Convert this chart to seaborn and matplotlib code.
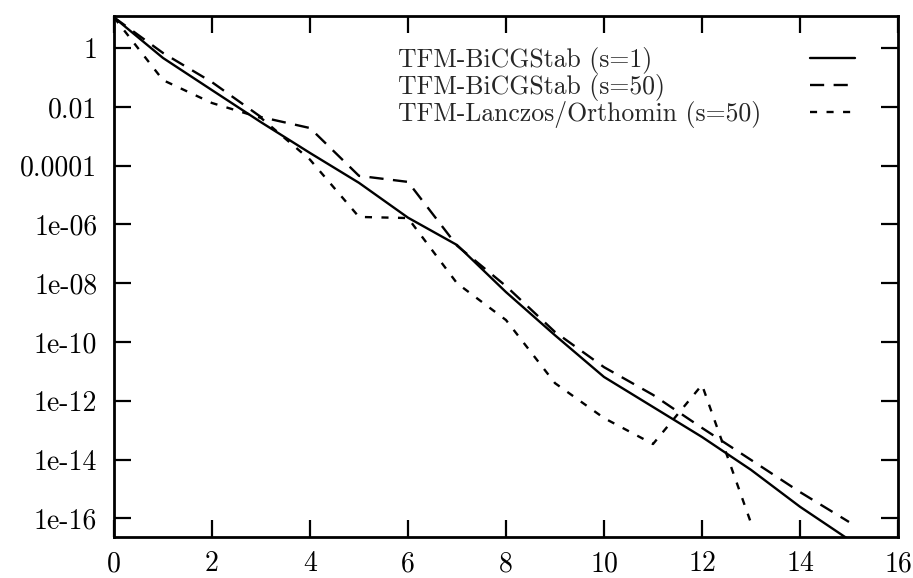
import numpy as np
import pandas as pd
import seaborn as sns
import matplotlib
matplotlib.use("Agg")
import matplotlib.pyplot as plt

# residual norms (one value per iteration)
iters_bicg1 = list(range(16))
res_bicg1 = [11.0, 0.46, 0.037, 3.0e-3, 2.7e-4, 2.6e-5, 1.7e-6, 2.0e-7,
             5.0e-9, 1.7e-10, 6.5e-12, 6.2e-13, 5.9e-14, 4.5e-15, 2.5e-16, 1.9e-17]

iters_bicg50 = list(range(16))
res_bicg50 = [11.0, 0.68, 0.069, 4.5e-3, 1.9e-3, 4.5e-5, 2.8e-5, 1.9e-7,
              8.0e-9, 2.2e-10, 1.4e-11, 1.6e-12, 1.2e-13, 9.8e-15, 7.9e-16, 7.6e-17]

iters_lanczos = list(range(14))
res_lanczos = [11.0, 0.081, 0.0135, 4.2e-3, 1.6e-4, 1.8e-6, 1.65e-6, 1.0e-8,
               5.6e-10, 4.0e-12, 2.6e-13, 3.4e-14, 3.5e-12, 7.0e-17]

labels = ["TFM-BiCGStab (s=1)", "TFM-BiCGStab (s=50)", "TFM-Lanczos/Orthomin (s=50)"]
ytick_vals = [1, 1e-2, 1e-4, 1e-6, 1e-8, 1e-10, 1e-12, 1e-14, 1e-16]
ytick_labels = ["1", "0.01", "0.0001", "1e-06", "1e-08", "1e-10", "1e-12", "1e-14", "1e-16"]
xtick_vals = list(range(0, 17, 2))

sns.set_theme(style="ticks")
plt.rcParams["font.family"] = ["cmr10", "DejaVu Serif"]
plt.rcParams["mathtext.fontset"] = "cm"
plt.rcParams["axes.unicode_minus"] = False
plt.rcParams["axes.formatter.use_mathtext"] = True

W, H = 913, 578
fig = plt.figure(figsize=(W / 100, H / 100), dpi=100)
fig.patch.set_facecolor("white")
ax = fig.add_axes([114 / W, 41 / H, (898 - 114) / W, (537 - 16) / H])

styles = ["-", (0, (6, 4)), (0, (3, 4))]
series = [(iters_bicg1, res_bicg1), (iters_bicg50, res_bicg50), (iters_lanczos, res_lanczos)]
for (xs, ys), lab, ls in zip(series, labels, styles):
    sns.lineplot(x=xs, y=ys, ax=ax, color="black", linewidth=1.7,
                 linestyle=ls, label=lab, estimator=None)

ax.set_yscale("log")
ax.set_xlim(0, 16)
ax.set_ylim(2.34e-17, 12.3)
ax.set_xticks(xtick_vals)
ax.set_xticklabels([str(v) for v in xtick_vals])
ax.set_yticks(ytick_vals)
ax.set_yticklabels(ytick_labels)
ax.yaxis.set_minor_locator(matplotlib.ticker.NullLocator())
ax.tick_params(axis="both", direction="in", length=12, width=1.6,
               top=True, right=True, labelsize=20, colors="black")
ax.tick_params(axis="y", pad=12)
ax.tick_params(axis="x", pad=10)
for sp in ax.spines.values():
    sp.set_linewidth(2.0)
    sp.set_color("black")
ax.set_xlabel("")
ax.set_ylabel("")

leg = ax.legend(loc="upper right", bbox_to_anchor=(0.945, 0.94), frameon=False,
                markerfirst=False, fontsize=18.5, handlelength=1.75,
                handletextpad=1.9, labelspacing=0.0, borderpad=0, borderaxespad=0)

# gnuplot-style key: labels flush left, samples flush right
fig.canvas.draw()
renderer = fig.canvas.get_renderer()
widths = [t.get_window_extent(renderer).width for t in leg.get_texts()]
maxw = max(widths)
rows = leg._legend_handle_box.get_children()[0].get_children()
for row, w in zip(rows, widths):
    row.sep += (maxw - w) * 72 / fig.dpi

fig.savefig("out.png", dpi=100, facecolor="white")
